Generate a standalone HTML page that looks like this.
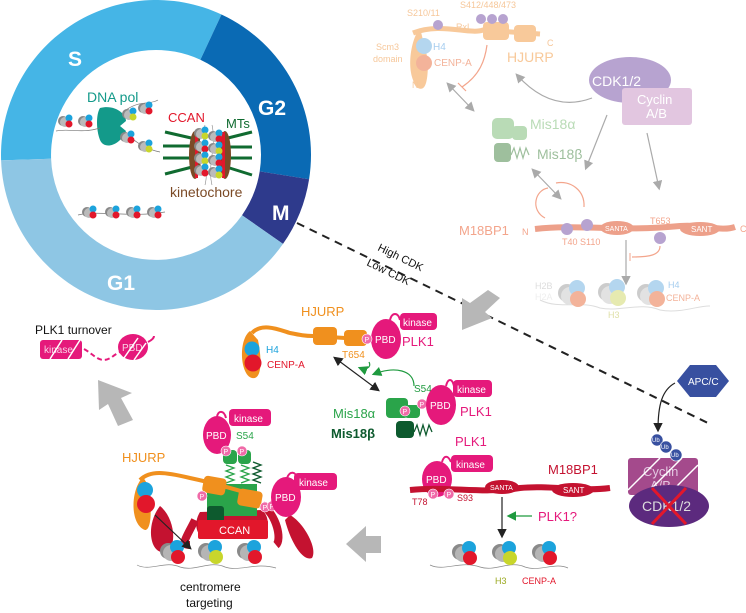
<!DOCTYPE html>
<html><head><meta charset="utf-8"><style>
html,body{margin:0;padding:0;background:#fff}
svg{display:block;font-family:"Liberation Sans",sans-serif}
</style></head><body>
<svg width="746" height="613" viewBox="0 0 746 613" xmlns="http://www.w3.org/2000/svg">
<defs>
<g id="nuc">
<circle cx="-4" cy="0" r="8" fill="#8a8a8a"/><circle cx="-1" cy="2" r="8" fill="#b5b5b5"/>
<circle cx="5" cy="-4" r="7" fill="#1ca3dc"/><circle cx="6" cy="6" r="7" fill="#e2172b"/>
</g>
<g id="nuch3">
<circle cx="-4" cy="0" r="8" fill="#8a8a8a"/><circle cx="-1" cy="2" r="8" fill="#b5b5b5"/>
<circle cx="5" cy="-4" r="7" fill="#1ca3dc"/><circle cx="6" cy="6" r="7" fill="#c8d62b"/>
</g>
<g id="sn">
<circle cx="-3" cy="0" r="5" fill="#888"/><circle cx="-1" cy="1" r="5" fill="#bbb"/>
<circle cx="3" cy="-3" r="3.5" fill="#1ca3dc"/><circle cx="3" cy="3" r="3.5" fill="#e2172b"/>
</g>
<g id="sny">
<circle cx="-3" cy="0" r="5" fill="#888"/><circle cx="-1" cy="1" r="5" fill="#bbb"/>
<circle cx="3" cy="-3" r="3.5" fill="#1ca3dc"/><circle cx="3" cy="3" r="3.5" fill="#c8d62b"/>
</g>
<g id="fnuc">
<circle cx="-4" cy="0" r="9" fill="#ccc"/><circle cx="-1" cy="3" r="9" fill="#e2e2e2"/>
<circle cx="6" cy="-5" r="8" fill="#b4d6ef"/><circle cx="7" cy="6" r="8" fill="#f3b39a"/>
</g>
<marker id="ab" markerWidth="8" markerHeight="8" refX="6" refY="4" orient="auto"><path d="M0,0 L8,4 L0,8 z" fill="#222"/></marker>
<marker id="ab0" markerWidth="8" markerHeight="8" refX="2" refY="4" orient="auto"><path d="M8,0 L0,4 L8,8 z" fill="#222"/></marker>
<marker id="ag" markerWidth="8" markerHeight="8" refX="6" refY="4" orient="auto"><path d="M0,0 L8,4 L0,8 z" fill="#aaa"/></marker>
<marker id="ag0" markerWidth="8" markerHeight="8" refX="2" refY="4" orient="auto"><path d="M8,0 L0,4 L8,8 z" fill="#aaa"/></marker>
<marker id="agr" markerWidth="8" markerHeight="8" refX="6" refY="4" orient="auto"><path d="M0,0 L8,4 L0,8 z" fill="#1f9a3f"/></marker>
</defs>

<!-- cell cycle ring -->
<path d="M1.1,160.4 A155,155 0 0 1 221.5,14.5 L200.4,59.8 A105,105 0 0 0 51.1,158.7 Z" fill="#45b5e6"/>
<path d="M221.5,14.5 A155,155 0 0 1 309.1,179.2 L259.7,171.4 A105,105 0 0 0 200.4,59.8 Z" fill="#0a6ab4"/>
<path d="M309.1,179.2 A155,155 0 0 1 283,243.9 L242,215.2 A105,105 0 0 0 259.7,171.4 Z" fill="#2e3a8c"/>
<path d="M283,243.9 A155,155 0 0 1 1.1,160.4 L51.1,158.7 A105,105 0 0 0 242,215.2 Z" fill="#8ec6e4"/>
<g fill="#fff" font-weight="bold" font-size="21">
<text x="68" y="66">S</text><text x="258" y="115">G2</text><text x="272" y="220">M</text><text x="107" y="290">G1</text>
</g>
<!-- inside circle -->
<text x="87" y="102" font-size="14" fill="#139a8a">DNA pol</text>
<path d="M100,108 C115,104 126,114 126,121 L120,126 L126,131 C120,146 104,150 100,140 C96,130 96,114 100,108 Z" fill="#139a8a"/>
<path d="M56,131 C70,128 80,134 100,128" stroke="#777" fill="none" stroke-width="0.7"/>
<use href="#sn" x="66" y="121"/><use href="#sn" x="86" y="121"/>
<path d="M126,110 C140,100 150,105 158,100" stroke="#777" fill="none" stroke-width="0.7"/>
<use href="#sny" x="130" y="114"/><use href="#sn" x="146" y="108"/>
<path d="M126,133 C138,145 150,150 160,152" stroke="#777" fill="none" stroke-width="0.7"/>
<use href="#sn" x="128" y="137"/><use href="#sny" x="146" y="146"/>
<path d="M78,215 C100,210 130,218 165,212" stroke="#777" fill="none" stroke-width="0.7"/>
<use href="#sn" x="90" y="212"/><use href="#sn" x="113" y="212"/><use href="#sn" x="134" y="212"/><use href="#sn" x="155" y="212"/>
<text x="168" y="122" font-size="13" fill="#e2172b">CCAN</text>
<text x="226" y="128" font-size="13" fill="#106b30">MTs</text>
<g stroke="#106b30" stroke-width="3">
<line x1="165" y1="132" x2="200" y2="140"/><line x1="163" y1="146" x2="200" y2="146"/><line x1="163" y1="158" x2="200" y2="158"/><line x1="165" y1="174" x2="200" y2="165"/>
<line x1="220" y1="140" x2="252" y2="132"/><line x1="220" y1="147" x2="252" y2="147"/><line x1="220" y1="158" x2="252" y2="158"/><line x1="220" y1="165" x2="252" y2="175"/>
</g>
<ellipse cx="195" cy="155" rx="6" ry="24" fill="#7b4a26"/><rect x="195" y="132" width="3" height="46" fill="#e2172b"/>
<ellipse cx="225" cy="155" rx="6" ry="24" fill="#7b4a26"/><rect x="222" y="132" width="3" height="46" fill="#e2172b"/>
<path d="M205,125 C200,145 210,165 205,185 M212,125 C217,145 207,165 212,185" stroke="#888" fill="none" stroke-width="0.6"/>
<use href="#sny" x="202" y="133"/><use href="#sn" x="202" y="146"/><use href="#sny" x="202" y="158"/><use href="#sn" x="202" y="170"/>
<use href="#sn" x="216" y="136"/><use href="#sny" x="216" y="148"/><use href="#sn" x="216" y="160"/><use href="#sny" x="216" y="172"/>
<text x="170" y="197" font-size="14" fill="#7b4a26">kinetochore</text>

<!-- faded top right -->
<g>
<path d="M413,33 C440,22 470,35 483,30 L540,34" stroke="#f8c99a" stroke-width="5" fill="none"/>
<path d="M420,28 C410,40 405,75 418,88 C426,92 428,80 428,60 Z" fill="#f8c99a"/>
<rect x="483" y="22" width="26" height="18" rx="4" fill="#f8c99a"/><rect x="514" y="25" width="22" height="17" rx="4" fill="#f8c99a"/>
<circle cx="424" cy="46" r="8" fill="#b4d6ef"/><circle cx="424" cy="63" r="8" fill="#f3b39a"/>
<g fill="#b7a3d0"><circle cx="438" cy="25" r="5"/><circle cx="481" cy="19" r="5"/><circle cx="492" cy="19" r="5"/><circle cx="503" cy="19" r="5"/></g>
<g font-size="9" fill="#f6c79a"><text x="407" y="16">S210/11</text><text x="460" y="8">S412/448/473</text><text x="456" y="30">RxL</text>
<text x="376" y="50">Scm3</text><text x="373" y="62">domain</text><text x="412" y="88">N</text><text x="547" y="46">C</text></g>
<text x="433" y="50" font-size="10" fill="#a6cdef">H4</text><text x="434" y="66" font-size="10" fill="#f3b39a">CENP-A</text>
<text x="507" y="62" font-size="14" fill="#f8c99a">HJURP</text>
<path d="M487,45 C485,60 480,75 462,87" stroke="#f3a58c" fill="none" stroke-width="1.2"/><line x1="458" y1="83" x2="466" y2="91" stroke="#f3a58c" stroke-width="1.2"/>
<line x1="448" y1="84" x2="473" y2="110" stroke="#aaa" stroke-width="1.2" marker-start="url(#ag0)" marker-end="url(#ag)"/>
<path d="M592,98 C560,110 535,95 517,75" stroke="#aaa" fill="none" stroke-width="1.2" marker-end="url(#ag)"/>
<ellipse cx="630" cy="80" rx="41" ry="23" fill="#b7a3d0"/>
<rect x="622" y="88" width="70" height="37" rx="3" fill="#e2c6e0"/>
<text x="592" y="86" font-size="14" fill="#fff">CDK1/2</text>
<text x="637" y="104" font-size="13" fill="#fff">Cyclin</text><text x="646" y="118" font-size="13" fill="#fff">A/B</text>
<path d="M607,115 L586,168" stroke="#aaa" stroke-width="1.2" marker-end="url(#ag)"/>
<path d="M647,133 L659,188" stroke="#aaa" stroke-width="1.2" marker-end="url(#ag)"/>
<rect x="492" y="118" width="22" height="21" rx="5" fill="#b9dbb6"/><rect x="512" y="126" width="15" height="14" rx="4" fill="#b9dbb6"/>
<text x="530" y="129" font-size="14" fill="#b9dbb6">Mis18α</text>
<rect x="494" y="143" width="17" height="19" rx="4" fill="#9ebf9d"/>
<path d="M511,155 l3,-7 l3,10 l3,-10 l3,10 l3,-10 l3,7" stroke="#9ebf9d" fill="none" stroke-width="1.2"/>
<text x="537" y="159" font-size="14" fill="#9ebf9d">Mis18β</text>
<line x1="533" y1="170" x2="560" y2="198" stroke="#aaa" stroke-width="1.2" marker-start="url(#ag0)" marker-end="url(#ag)"/>
<path d="M545,218 C530,210 535,190 548,188" stroke="#f3a58c" fill="none" stroke-width="1.2"/>
<path d="M584,207 C585,190 570,180 556,183" stroke="#f3a58c" fill="none" stroke-width="1.2"/>
<path d="M535,229 C580,224 620,232 680,226 C705,224 720,232 735,227" stroke="#eda08a" stroke-width="6" fill="none"/>
<ellipse cx="617" cy="228" rx="17" ry="7" fill="#eda08a"/><ellipse cx="700" cy="229" rx="20" ry="7" fill="#eda08a"/>
<text x="605" y="231" font-size="7" fill="#fff">SANTA</text><text x="691" y="232" font-size="8" fill="#fff">SANT</text>
<g fill="#b7a3d0"><circle cx="567" cy="229" r="6"/><circle cx="587" cy="225" r="6"/><circle cx="660" cy="238" r="6"/></g>
<text x="459" y="235" font-size="13" fill="#f3a58c">M18BP1</text>
<g font-size="9" fill="#f3a58c"><text x="522" y="235">N</text><text x="740" y="232">C</text><text x="562" y="245">T40 S110</text><text x="650" y="224">T653</text></g>
<line x1="626" y1="240" x2="626" y2="283" stroke="#aaa" stroke-width="1.2" marker-end="url(#ag)"/>
<path d="M660,246 C660,255 650,257 632,257" stroke="#f3a58c" fill="none" stroke-width="1.2"/><line x1="630" y1="253" x2="630" y2="261" stroke="#f3a58c"/>
<path d="M540,300 C560,310 580,300 600,308 C620,312 640,302 660,310 C680,314 700,305 710,306" stroke="#ddd" fill="none"/>
<use href="#fnuc" x="571" y="293"/><g transform="translate(611,292)"><circle cx="-4" cy="0" r="9" fill="#ccc"/><circle cx="-1" cy="3" r="9" fill="#e2e2e2"/><circle cx="6" cy="-5" r="8" fill="#b4d6ef"/><circle cx="7" cy="6" r="8" fill="#e6eab0"/></g><use href="#fnuc" x="650" y="293"/>
<g font-size="9"><text x="535" y="289" fill="#ddd">H2B</text><text x="535" y="300" fill="#eee">H2A</text><text x="668" y="288" fill="#a6cdef">H4</text><text x="666" y="301" fill="#f3b39a">CENP-A</text><text x="608" y="318" fill="#dfe0a8">H3</text></g>
</g>

<!-- dashed divide -->
<line x1="297" y1="223" x2="712" y2="425" stroke="#222" stroke-width="2" stroke-dasharray="8,6"/>
<text transform="translate(377,250) rotate(26)" font-size="11" fill="#111">High CDK</text>
<text transform="translate(366,265) rotate(26)" font-size="11" fill="#111">Low CDK</text>

<!-- big gray arrows -->
<path d="M488,290 L500,298 L485,312 L492,318 L462,330 L462,298 L470,303 Z" fill="#b7b7b7"/>
<path d="M346,544 L366,526 L366,536 L381,536 L381,553 L366,553 L366,562 Z" fill="#b7b7b7"/>
<path d="M98,380 L132,393 L121,398 L133,420 L118,426 L108,404 L99,410 Z" fill="#b7b7b7"/>

<!-- PLK1 turnover -->
<text x="35" y="334" font-size="12" fill="#111">PLK1 turnover</text>
<rect x="40" y="340" width="42" height="19" rx="3" fill="#e5197b"/>
<text x="44" y="353" font-size="10" fill="#fff" opacity="0.8">kinase</text>
<path d="M50,359 L62,340 M68,359 L80,340" stroke="#fff" stroke-width="1.5"/>
<path d="M84,349 C95,355 100,365 112,357 C118,352 125,350 130,348" stroke="#e5197b" stroke-width="2" fill="none" stroke-dasharray="5,3"/>
<ellipse cx="133" cy="347" rx="15" ry="13" fill="#e5197b"/>
<path d="M148,342 C152,340 154,338 154,336" stroke="#e5197b" stroke-width="2" fill="none"/>
<text x="122" y="351" font-size="10" fill="#fff" opacity="0.8">PBD</text>
<path d="M124,358 L138,338 M134,360 L146,343" stroke="#fff" stroke-width="1.5"/>

<!-- mid HJURP complex -->
<text x="301" y="316" font-size="13" fill="#f0901e">HJURP</text>
<path d="M252,333 C262,322 280,330 290,333 C300,335 305,336 313,336 L345,338" stroke="#f0901e" stroke-width="4" fill="none"/>
<path d="M250,331 C238,340 240,375 252,378 C262,380 262,360 258,340 Z" fill="#f0901e"/>
<circle cx="252" cy="349" r="7.5" fill="#1ca3dc"/><circle cx="253" cy="363" r="8.5" fill="#e2172b"/>
<text x="266" y="353" font-size="10" fill="#1ca3dc">H4</text><text x="267" y="368" font-size="10" fill="#e2172b">CENP-A</text>
<rect x="313" y="327" width="24" height="18" rx="4" fill="#f0901e"/><rect x="344" y="330" width="23" height="16" rx="4" fill="#f0901e"/>
<text x="342" y="358" font-size="10" fill="#f0901e">T654</text>
<ellipse cx="386" cy="339" rx="15" ry="20" fill="#e5197b"/>
<path d="M390,320 C392,312 398,312 400,320" stroke="#e5197b" stroke-width="2" fill="none"/>
<rect x="400" y="313" width="37" height="17" rx="4" fill="#e5197b"/><text x="403" y="326" font-size="10" fill="#fff">kinase</text>
<text x="375" y="343" font-size="10" fill="#fff">PBD</text>
<circle cx="367" cy="339" r="5" fill="#f06aa8" stroke="#fff" stroke-width="0.6"/><text x="364.5" y="342" font-size="7" fill="#fff">P</text>
<text x="402" y="346" font-size="13" fill="#e5197b">PLK1</text>
<line x1="335" y1="358" x2="378" y2="390" stroke="#222" stroke-width="1.2" marker-start="url(#ab0)" marker-end="url(#ab)"/>
<path d="M369,362 C372,368 365,370 360,368" stroke="#1f9a3f" stroke-width="1.2" fill="none" marker-end="url(#agr)"/>
<path d="M414,386 C414,370 395,366 374,374" stroke="#1f9a3f" stroke-width="1.2" fill="none" marker-end="url(#agr)"/>
<text x="414" y="392" font-size="10" fill="#1f9a3f">S54</text>
<rect x="386" y="398" width="22" height="20" rx="4" fill="#2aa44a"/><rect x="404" y="405" width="16" height="13" rx="4" fill="#2aa44a"/>
<circle cx="405" cy="411" r="5" fill="#f06aa8" stroke="#fff" stroke-width="0.6"/><text x="402.5" y="414" font-size="7" fill="#fff">P</text>
<circle cx="422" cy="404" r="5" fill="#f06aa8" stroke="#fff" stroke-width="0.6"/><text x="419.5" y="407" font-size="7" fill="#fff">P</text>
<ellipse cx="441" cy="405" rx="15" ry="20" fill="#e5197b"/><text x="430" y="409" font-size="10" fill="#fff">PBD</text>
<path d="M446,386 C448,378 452,378 454,386" stroke="#e5197b" stroke-width="2" fill="none"/>
<rect x="453" y="380" width="39" height="17" rx="4" fill="#e5197b"/><text x="457" y="393" font-size="10" fill="#fff">kinase</text>
<text x="460" y="416" font-size="13" fill="#e5197b">PLK1</text>
<text x="333" y="418" font-size="13" fill="#2aa44a">Mis18α</text>
<text x="331" y="438" font-size="13" font-weight="bold" fill="#0d5a2e">Mis18β</text>
<rect x="396" y="421" width="18" height="17" rx="4" fill="#0d5a2e"/>
<path d="M414,432 l3,-7 l3,10 l3,-10 l3,10 l3,-10 l3,7" stroke="#0d5a2e" fill="none" stroke-width="1.3"/>

<!-- M18BP1 low CDK -->
<text x="455" y="446" font-size="13" fill="#e5197b">PLK1</text>
<ellipse cx="437" cy="479" rx="15" ry="18" fill="#e5197b"/>
<path d="M442,462 C444,455 448,455 451,462" stroke="#e5197b" stroke-width="2" fill="none"/>
<rect x="451" y="455" width="42" height="17" rx="4" fill="#e5197b"/><text x="456" y="468" font-size="10" fill="#fff">kinase</text>
<path d="M410,490 C450,486 480,494 520,488 C550,485 580,492 610,488" stroke="#c41230" stroke-width="6" fill="none"/>
<ellipse cx="502" cy="487" rx="17" ry="7" fill="#c41230"/><ellipse cx="573" cy="490" rx="21" ry="7" fill="#c41230"/>
<text x="426" y="483" font-size="10" fill="#fff">PBD</text>
<text x="490" y="490" font-size="7" fill="#fff">SANTA</text><text x="563" y="493" font-size="8" fill="#fff">SANT</text>
<circle cx="433" cy="494" r="5" fill="#f06aa8" stroke="#fff" stroke-width="0.6"/><text x="430.5" y="497" font-size="7" fill="#fff">P</text>
<circle cx="449" cy="494" r="5" fill="#f06aa8" stroke="#fff" stroke-width="0.6"/><text x="446.5" y="497" font-size="7" fill="#fff">P</text>
<text x="412" y="505" font-size="9" fill="#c41230">T78</text><text x="457" y="501" font-size="9" fill="#c41230">S93</text>
<text x="548" y="474" font-size="13" fill="#c41230">M18BP1</text>
<line x1="502" y1="497" x2="502" y2="536" stroke="#222" stroke-width="1.2" marker-end="url(#ab)"/>
<line x1="532" y1="516" x2="509" y2="516" stroke="#1f9a3f" stroke-width="1.2" marker-end="url(#agr)"/>
<text x="538" y="521" font-size="13" fill="#e5197b">PLK1?</text>
<path d="M430,565 C445,572 460,560 480,567 C495,572 510,560 525,567 C540,572 555,562 568,568" stroke="#888" fill="none" stroke-width="0.7"/>
<use href="#nuc" x="464" y="552"/><use href="#nuch3" x="504" y="552"/><use href="#nuc" x="544" y="552"/>
<text x="495" y="584" font-size="9" fill="#9aa81f">H3</text><text x="522" y="584" font-size="9" fill="#e2172b">CENP-A</text>

<!-- APC/C, Cyclin -->
<polygon points="677,381 690,365 716,365 729,381 716,397 690,397" fill="#3850a0"/>
<text x="688" y="385" font-size="10" fill="#fff">APC/C</text>
<path d="M675,383 C662,390 658,405 658,430" stroke="#222" stroke-width="1.2" fill="none" marker-end="url(#ab)"/>
<rect x="628" y="458" width="70" height="37" rx="3" fill="#a44a8c"/>
<text x="643" y="476" font-size="13" fill="#e2c6e0">Cyclin</text><text x="650" y="490" font-size="13" fill="#e2c6e0">A/B</text>
<path d="M628,490 L660,458 M645,495 L682,458 M668,495 L698,465" stroke="#fff" stroke-width="1.5"/>
<g fill="#3850a0" stroke="#fff" stroke-width="0.6"><circle cx="657" cy="440" r="6"/><circle cx="666" cy="447" r="6"/><circle cx="676" cy="455" r="6"/></g>
<g font-size="6" fill="#fff"><text x="652" y="442">Ub</text><text x="661" y="449">Ub</text><text x="671" y="457">Ub</text></g>
<ellipse cx="669" cy="506" rx="40" ry="21" fill="#5c2a7e"/>
<text x="642" y="511" font-size="14" fill="#ddd">CDK1/2</text>
<path d="M652,488 L686,524 M686,488 L652,524" stroke="#e2172b" stroke-width="3"/>

<!-- bottom left centromere complex -->
<text x="122" y="462" font-size="13" fill="#f0901e">HJURP</text>
<path d="M160,506 C145,525 150,555 165,552 C178,548 175,518 160,506 Z" fill="#c41230"/>
<path d="M195,520 C185,540 180,545 190,545" stroke="#c41230" stroke-width="8" fill="none"/>
<path d="M290,515 C303,522 318,548 312,558 C302,562 290,540 285,520 Z" fill="#c41230"/>
<path d="M262,505 C277,515 282,540 276,545" stroke="#c41230" stroke-width="8" fill="none"/>
<path d="M200,512 C195,520 195,530 200,535 L265,535 C270,525 268,515 262,510 Z" fill="#c41230"/>
<rect x="207" y="484" width="50" height="32" fill="#2aa44a"/>
<rect x="207" y="506" width="17" height="18" rx="3" fill="#0d5a2e"/>
<rect x="223" y="450" width="14" height="14" rx="4" fill="#2aa44a"/><rect x="238" y="450" width="13" height="14" rx="4" fill="#2aa44a"/>
<path d="M226,465 l8,3 l-8,3 l8,3 l-8,3 l8,3 l-8,3 M241,465 l8,3 l-8,3 l8,3 l-8,3 l8,3 l-8,3" stroke="#2aa44a" fill="none" stroke-width="1.3"/>
<path d="M253,462 l8,3 l-8,3 l8,3 l-8,3 l8,3 l-8,3 l8,3" stroke="#0d5a2e" fill="none" stroke-width="1.3"/>
<rect x="198" y="520" width="70" height="19" rx="2" fill="#e2172b"/>
<text x="219" y="534" font-size="11" fill="#fff">CCAN</text>
<path d="M140,480 C150,470 165,472 190,478 C210,482 230,488 262,497" stroke="#f0901e" stroke-width="4" fill="none"/>
<path d="M143,477 C130,490 130,525 145,530 C152,530 152,505 148,485 Z" fill="#f0901e"/>
<circle cx="145" cy="490" r="8" fill="#1ca3dc"/><circle cx="146" cy="504" r="9" fill="#e2172b"/>
<rect x="203" y="477" width="23" height="17" rx="4" fill="#f0901e" transform="rotate(10,214,485)"/>
<rect x="238" y="490" width="24" height="17" rx="4" fill="#f0901e" transform="rotate(10,250,498)"/>
<circle cx="202" cy="496" r="5" fill="#f06aa8" stroke="#fff" stroke-width="0.6"/><text x="199.5" y="499" font-size="7" fill="#fff">P</text>
<circle cx="265" cy="507" r="5" fill="#f06aa8" stroke="#fff" stroke-width="0.6"/><text x="262.5" y="510" font-size="7" fill="#fff">P</text>
<circle cx="272" cy="506" r="5" fill="#f06aa8" stroke="#fff" stroke-width="0.6"/><text x="269.5" y="509" font-size="7" fill="#fff">P</text>
<ellipse cx="217" cy="435" rx="14" ry="19" fill="#e5197b"/><text x="206" y="439" font-size="10" fill="#fff">PBD</text>
<path d="M217,417 C218,410 224,410 226,418" stroke="#e5197b" stroke-width="2" fill="none"/>
<rect x="229" y="409" width="42" height="17" rx="4" fill="#e5197b"/><text x="234" y="422" font-size="10" fill="#fff">kinase</text>
<text x="236" y="439" font-size="10" fill="#2aa44a">S54</text>
<circle cx="226" cy="451" r="5" fill="#f06aa8" stroke="#fff" stroke-width="0.6"/><text x="223.5" y="454" font-size="7" fill="#fff">P</text>
<circle cx="242" cy="451" r="5" fill="#f06aa8" stroke="#fff" stroke-width="0.6"/><text x="239.5" y="454" font-size="7" fill="#fff">P</text>
<ellipse cx="286" cy="497" rx="15" ry="20" fill="#e5197b"/><text x="275" y="501" font-size="10" fill="#fff">PBD</text>
<path d="M287,478 C290,470 296,472 297,478" stroke="#e5197b" stroke-width="2" fill="none"/>
<rect x="294" y="473" width="43" height="17" rx="4" fill="#e5197b"/><text x="299" y="486" font-size="10" fill="#fff">kinase</text>
<path d="M137,565 C150,572 165,560 180,567 C195,572 210,560 225,567 C240,572 255,562 276,568" stroke="#888" fill="none" stroke-width="0.7"/>
<use href="#nuc" x="172" y="551"/><use href="#nuch3" x="210" y="551"/><use href="#nuc" x="249" y="551"/>
<line x1="155" y1="515" x2="190" y2="548" stroke="#222" stroke-width="1.2" marker-end="url(#ab)"/>
<text x="180" y="591" font-size="12" fill="#111">centromere</text>
<text x="186" y="607" font-size="12" fill="#111">targeting</text>
</svg>
</body></html>
